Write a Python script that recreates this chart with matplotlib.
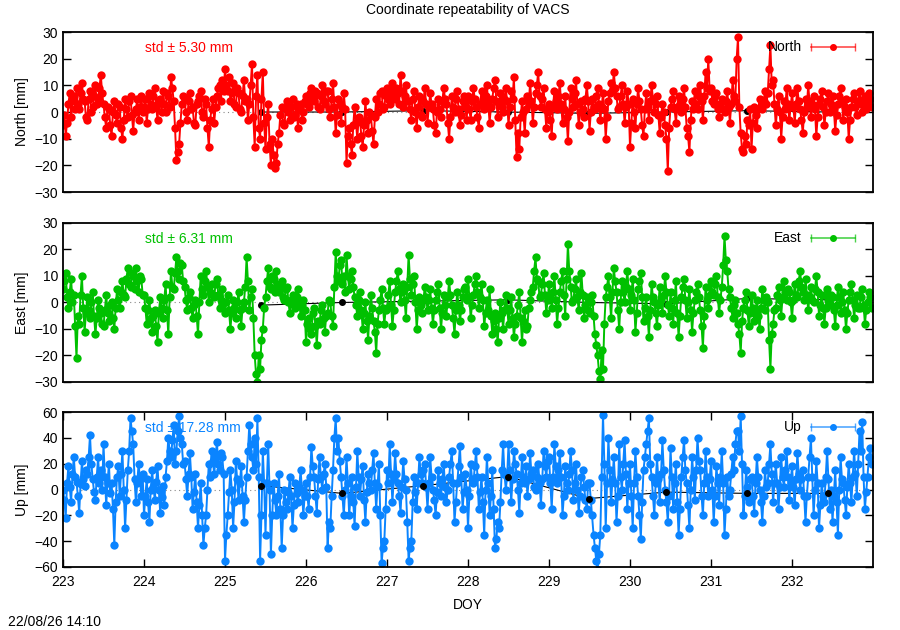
import numpy as np
import matplotlib.pyplot as plt

plt.rcParams['font.family'] = ['Liberation Sans', 'DejaVu Sans']
plt.rcParams['font.size'] = 10

# epohe: 60 resenja dnevno, pocev od DOY 223
doy_start = 223.0
per_day = 60

# pola dana po redu (30 vrednosti), mm
north = [
    -5, -1, -9, -4, 3, 7, -2, 4, 6, 1, 9, 3, 1, 7, 11, 5, 4, -2, -3, 5, 8, 0, 2, 6, 10, 3, 5, 9, 14, 7,
    3, -2, -6, 2, 1, -5, -9, 0, 4, -1, -4, 3, 2, -6, -10, -3, 5, 1, -2, 4, 6, -1, -7, 0, 1, 5, -3, 2, 6, 0,
    2, 5, -4, 1, 7, 3, 1, 6, 9, 2, -3, 4, 5, 0, 8, 3, 0, 7, 6, 2, 13, 9, 4, -6, -18, -15, -12, -4, 3, 6,
    5, 0, -3, 4, 7, 1, 2, -4, -5, 3, 4, 6, 8, 0, -2, 5, 3, -6, -13, -3, 1, 5, -4, 2, 6, 9, 10, 4, 12, 8,
    16, 10, 8, 13, 4, 7, 11, 3, 2, 9, 7, 1, 0, 6, 12, 4, 5, -3, 3, 10, 18, -2, -13, 6, 14, -6, -10, 5, 15, -4,
    -14, -2, 3, -12, -20, -10, -16, -21, -19, -12, -8, -1, 2, -4, -5, 1, 4, 0, -3, 2, 5, -2, -1, 3, -6, 1, 3, -3, 0, 4,
    6, 3, 2, 7, 9, 5, 4, 8, 7, 2, 1, 6, 10, 4, 3, 8, 8, 1, -2, 5, 11, 2, -8, -1, 5, 3, -4, 2, 7, 1,
    -19, -9, -6, -12, -16, -5, 2, -4, -10, -2, -3, -9, -13, -5, 4, -3, -8, 0, -1, -7, -12, -2, 5, 0, 3, 7, 8, 1, 2, 6,
    9, 5, 3, 8, 11, 6, 5, 9, 7, 3, 14, 8, 2, 6, 10, 4, 4, 1, -3, 5, 8, 0, -6, 2, 6, -1, -2, 4, 9, 3,
    -4, 2, 7, 3, 1, -5, -8, 0, 5, 1, -2, 4, 9, 5, 3, -4, -10, -2, 6, 2, 0, 5, 8, 1, -5, -1, 4, 6, 2, -3,
    6, 1, -3, 4, 9, 5, 2, -2, -6, 3, 8, 4, 1, 6, 10, 3, -4, 2, 5, 9, 12, 4, -2, 3, 7, 2, 0, 5, 9, 4,
    -5, 2, 8, 5, 13, -3, -17, -8, -14, -2, 4, 0, -8, 1, 6, 3, 11, 4, -4, 2, 7, 10, 15, 6, 2, 5, 9, 1, -6, 0,
    3, -3, -9, 2, 8, 4, 1, 6, 11, 3, -4, 1, 6, -2, -11, 0, 9, 5, 2, 7, 12, 3, -5, 0, 4, 1, -2, 5, 10, 4,
    -7, 0, 5, 2, 1, 6, 9, 3, -3, 2, 7, 1, -10, -2, 4, 7, 11, 8, 15, 9, 6, 1, 2, 6, 10, 3, -4, 2, 8, 3,
    -13, -4, 5, 0, -6, 3, 9, 4, 1, -5, -9, 1, 7, 2, -3, 4, 10, 5, 0, 3, 6, -1, -8, -2, 3, 0, -5, -10, -22, -6,
    2, 5, 8, 1, -4, 2, 6, 3, 0, 5, 9, 2, -6, -9, -15, -3, 4, 1, 8, 3, 1, 6, 10, 4, -3, 6, 15, 9, 20, 8,
    9, 4, 3, 6, 7, 1, -2, 3, 5, 1, 0, 4, 8, 2, -4, 3, 12, 6, 4, 20, 28, 2, -8, -14, -15, -9, -12, -3, -5, 1,
    -14, -4, 2, -1, -6, 1, 5, 2, 1, 4, 8, 3, 7, 16, 25, 10, 12, 3, -5, 1, 6, 0, -10, -2, 4, 1, 9, 3, -3, 2,
    7, 2, -4, 3, 9, 4, 1, -3, -8, 0, 5, 2, 10, 4, -2, 3, 6, 1, -9, -2, 3, 5, 8, 2, -5, 0, 4, 7, 0, 3,
    6, 1, -7, -1, 3, 6, 9, 4, -3, 2, 5, 0, -10, -3, 2, 5, 7, 2, -1, 4, 8, 3, 0, 5, 6, 1, 3, 7, 5, 2,
]

east = [
    5, 8, 11, 2, -2, 4, 9, 0, 3, -9, -21, -5, -8, 3, 10, -2, -11, -4, 2, -3, -6, 0, 4, -5, -12, -6, 1, -2, -4, -8,
    -9, -3, 3, -4, -7, -1, 0, -6, -10, -2, 5, 1, -2, 4, 8, 3, 2, 9, 13, 7, 6, 11, 10, 5, 13, 8, 4, 10, 9, 3,
    3, -2, -8, -3, 1, -6, -11, -5, -3, -9, -15, -4, 2, -2, -6, 1, 7, -3, -12, 2, 12, 6, 5, 11, 17, 12, 9, 15, 14, 8,
    6, 1, -3, 2, 4, -2, -6, -1, 1, -5, -12, 0, 10, 5, 3, 8, 12, 6, 0, 4, 7, 3, 2, 7, 9, 3, -2, 1, 5, 0,
    -4, 0, 3, -3, -10, -4, 1, -2, -6, 0, 4, -3, -9, -2, 0, 6, 17, 8, -3, 2, 5, -6, -20, -27, -30, -20, -25, -14, -10, -2,
    2, 8, 13, 6, 5, 10, 9, 4, 12, 6, 4, 7, 8, 2, 1, 5, 6, 0, -4, 1, 3, -1, -2, 2, 5, 0, -5, -1, 1, -3,
    -15, -8, -6, -10, -12, -4, -2, -9, -16, -7, -8, -3, -1, -6, -11, -5, -4, 1, 0, -5, -9, 6, 19, 10, 8, 14, 16, 7, 10, 4,
    18, 10, 5, 9, 12, 6, 2, -1, -5, 1, 4, -3, -10, -4, 0, -7, -14, -5, 3, -2, -7, -11, -19, -8, -3, 1, 5, -2, -8, -3,
    -2, 3, 8, -1, -9, -3, 4, 8, 12, 5, 0, 4, 7, 1, -6, 6, 18, 9, 3, 7, 10, 0, -10, -3, 2, -1, -4, 1, 6, 2,
    -3, 1, 5, -2, -8, -3, 1, 4, 7, -2, -10, -4, 3, -1, -5, 2, 8, 3, -1, -6, -12, -3, 4, -1, -7, -3, 2, 5, 6, 1,
    9, 2, -6, -1, 3, 7, 10, 4, -2, 2, 7, 1, -9, -4, 1, -3, 5, -5, -12, -7, -4, -10, -15, -6, 0, -4, -10, -3, 3, -2,
    -8, -3, 2, -6, -13, -8, -5, -1, 4, -6, -15, -7, -3, -10, -9, -2, 1, 4, 6, 12, 17, 9, 8, 2, 3, 7, 11, 3, -4, 1,
    7, 2, -2, 4, 10, 1, -8, -2, 4, 8, 12, 3, -5, 9, 22, 12, 6, 0, 1, 5, 9, 2, -3, 4, 11, 3, -6, -1, 2, -3,
    -4, 0, 3, -5, -12, -16, -20, -26, -29, -18, -25, -8, 2, 6, 10, 2, -6, 4, 13, 8, 4, -3, -10, 0, 8, 4, 0, 6, 12, 5,
    -3, 3, 9, 1, -11, -4, 5, 8, 11, 2, -7, -2, 2, -5, -13, -3, 7, 2, 0, -4, -9, -1, 6, 1, -4, 3, 10, 4, -1, -5,
    4, -2, -8, 1, 8, -4, -13, -5, 2, 6, 9, 1, -6, 0, 5, -3, -11, -4, 1, 4, 7, 2, -3, -9, -17, -5, 6, 1, -2, 3,
    8, 4, 3, 7, 10, 2, -4, 1, 6, 14, 25, 16, 12, 5, 2, -2, -6, -1, 1, -4, -8, -12, -19, -7, -2, 1, 4, -3, -9, -4,
    3, -2, -7, -3, 1, -5, -10, -2, 5, 1, -3, 2, 0, -14, -25, -12, -8, -3, -2, 3, 6, 1, -5, 2, 8, 4, 1, 5, 4, 0,
    -6, 1, 7, 3, 2, 8, 12, 6, 4, 1, 9, 3, -3, 2, 6, 1, 0, 5, 10, 4, -5, -1, 3, -2, -8, -2, 5, 1, -1, 3,
    2, -3, -9, -1, 6, 2, -4, 0, 4, -3, -10, -4, 1, 4, 7, 1, -6, -1, 3, -2, -2, 2, 5, -1, -8, -3, 0, 4, 2, -2,
]

up = [
    0, -8, -22, 5, 18, 2, -10, 12, 25, 10, 6, -5, -18, 4, 22, 8, 3, 15, 12, 25, 42, 20, 8, -2, -8, 10, 25, 5, 15, 0,
    35, 10, -12, 5, 20, -3, 5, -15, -43, -10, 10, 18, -5, 12, 30, 0, -30, -8, 15, 30, 55, 45, 35, 8, -10, 5, 20, 8, -5, 12,
    -20, -5, 8, -10, -25, 0, 15, 2, -8, 6, 18, 0, -18, -6, 3, -12, 10, 22, 40, 30, 25, 38, 50, 20, 30, 45, 57, 40, 35, 20,
    22, 8, -5, 12, 28, 10, -15, -2, 12, -10, -30, -12, 5, -20, -43, -30, -20, 0, 20, 10, 30, 22, 12, 25, 37, 20, 15, 28, 25, 12,
    -55, -35, -20, -2, 15, 0, -30, -10, 22, 8, -8, 5, 18, -5, -25, -8, 10, 30, 50, 35, 25, 15, 40, 20, 55, 10, -55, -20, 30, 5,
    -35, 5, 35, 0, -50, -20, 5, -8, -20, -5, 12, -15, -45, -20, 0, -10, -15, -2, 10, -5, -30, -12, 5, -3, -10, 2, 15, 0, -20, -5,
    5, -5, -15, 10, 33, 18, 10, -5, -18, 8, 25, 10, 0, 12, 20, 2, -45, -25, -30, -5, 15, 40, 55, 30, 40, 22, 10, -5, -20, 0,
    25, 5, -20, -5, 10, -10, -28, 2, 30, 10, -5, 8, 18, -8, -25, -2, 12, 5, 0, 15, 28, 5, -15, 3, 20, -20, -57, -45, -40, -15,
    15, 5, 35, 12, -10, 8, 28, 12, 5, -5, -18, 2, 22, 8, 0, -25, -55, -45, -40, -10, 10, -2, -15, 5, 25, 12, 5, 15, 20, 2,
    -15, 5, 25, 10, 0, -8, -20, -2, 15, 5, -5, 8, 20, 2, -10, 0, 10, 20, 30, 5, -25, -10, 5, 18, 34, 10, -15, -2, 12, 0,
    -30, -5, 20, 8, 5, 18, 30, 10, -15, -2, 10, -10, -35, 0, 25, 5, -20, -5, 15, -15, -45, -38, -25, -30, -10, 15, 35, 12, 0, 10,
    35, 15, -10, 8, 30, 20, 12, 0, -18, 5, 25, 10, 5, 18, -5, 8, 28, 12, 15, 2, 0, 10, 20, 5, -12, 8, 30, 18, 10, 22,
    25, 5, -15, 10, 35, 18, 5, 15, 28, 10, -20, -5, 18, 5, 0, 12, 30, 15, -8, 5, 20, 0, -18, -5, 10, 15, 2, -8, -15, 5,
    5, -8, -20, -35, -45, -55, -62, -50, -35, 10, 58, 20, -30, 5, 40, 15, -10, 8, 25, 5, -25, -5, 35, 10, 0, 20, 38, 12, -15, 5,
    20, -5, -30, 5, 30, 10, -5, -20, -38, -10, 15, 25, 35, 45, 55, 20, 10, -5, -20, 5, 25, 8, -10, 12, 38, 15, 0, -10, -25, -5,
    32, 10, -15, 5, 20, -10, -35, -15, 10, 25, 38, 15, 5, -12, -30, 0, 25, 10, -8, 15, 40, 22, 15, -5, -20, 5, 30, 10, -5, 8,
    22, 0, -25, -5, 18, 5, -12, 10, 30, 5, -35, -15, 10, -5, 0, 12, 25, 15, 35, 45, 45, 30, 57, 20, -20, -5, 15, 2, -10, 8,
    10, -5, -18, 5, 25, 10, 0, -10, -25, -5, 15, 2, 5, 20, 35, 12, -10, 5, 20, 5, -15, 2, 25, 10, 2, 15, 30, 10, -8, 5,
    18, 2, -12, 8, 28, 12, 0, 8, 15, -5, -25, -5, 10, 25, 40, 10, -20, 0, 22, 5, -30, -12, 5, -5, -10, 10, 30, 8, -15, 0,
    -25, -5, 15, -10, -35, 0, 25, 8, 5, -8, -20, 2, 20, 5, -10, 10, 30, 12, -5, 20, 45, 30, 52, 10, -15, -2, 10, 25, 32, 20,
]

# dnevna resenja (crna linija)
daily_doy = [225.45, 226.45, 227.45, 228.49, 229.49, 230.45, 231.45, 232.45]
daily_north = [0, 0, 0.5, 0, -0.5, 0, 0.5, 0]
daily_east = [-1, 0, 0.5, 1, 0, -0.5, 1.5, 1]
daily_up = [3, -3, 3, 10, -7, -2, -3, -3]

std_text = ["std \u00b1 5.30 mm", "std \u00b1 6.31 mm", "std \u00b1 17.28 mm"]

fig = plt.figure(figsize=(9, 6.3), dpi=100)

panels = [
    ("North", north, daily_north, "#ff0000", 30, 10, [0.07, 0.6952, 0.9, 0.254]),
    ("East", east, daily_east, "#00c000", 30, 10, [0.07, 0.3937, 0.9, 0.2524]),
    ("Up", up, daily_up, "#0a84ff", 60, 20, [0.07, 0.100, 0.9, 0.246]),
]

for i, (ime, vals, daily, boja, lim, korak, pos) in enumerate(panels):
    doy = doy_start + np.arange(len(vals)) / per_day
    ax = fig.add_axes(pos)
    ax.axhline(0, color="#888888", lw=0.8, ls=(0, (1, 3)), zorder=1)
    ax.plot(daily_doy, daily, "-", color="black", lw=0.8, zorder=2)
    ax.plot(doy, vals, "-o", color=boja, lw=1.4, markersize=6,
            markeredgewidth=0, zorder=3)
    # u Up panelu crne tacke se vide preko plavih
    ax.plot(daily_doy, daily, "o", color="black", markersize=4,
            zorder=4 if i == 2 else 2)

    ax.set_xlim(223, 233)
    ax.set_ylim(-lim, lim)
    ax.set_yticks(np.arange(-lim, lim + 1, korak))
    ax.set_ylabel(ime + " [mm]", labelpad=4)
    ax.tick_params(axis="y", direction="in", right=True, length=6, width=1)
    if i < 2:
        ax.set_xticks([])
    else:
        ax.set_xticks(np.arange(223, 233))
        ax.tick_params(axis="x", direction="in", top=True, length=6, width=1,
                       pad=6)
        ax.set_xlabel("DOY", labelpad=6)
    for s in ax.spines.values():
        s.set_linewidth(1.3)
        s.set_zorder(6)

    ax.text(0.101, 0.90, std_text[i], transform=ax.transAxes, color=boja,
            va="center", ha="left", zorder=5)

    # legenda kao u gnuplotu
    ax.text(0.912, 0.906, ime, transform=ax.transAxes, ha="right",
            va="center", zorder=5)
    ax.plot([0.923, 0.978], [0.906, 0.906], transform=ax.transAxes,
            color=boja, lw=1.2, alpha=0.7, zorder=5)
    ax.plot([0.923, 0.978], [0.906, 0.906], "|", transform=ax.transAxes,
            color=boja, markersize=6, alpha=0.7, zorder=5)
    ax.plot([0.9505], [0.906], "o", transform=ax.transAxes, color=boja,
            markersize=4, zorder=5)

fig.text(0.52, 0.984, "Coordinate repeatability of VACS", ha="center",
         va="center")
fig.text(0.009, 0.013, "22/08/26 14:10", ha="left", va="center")

plt.savefig("out.png", dpi=100)
